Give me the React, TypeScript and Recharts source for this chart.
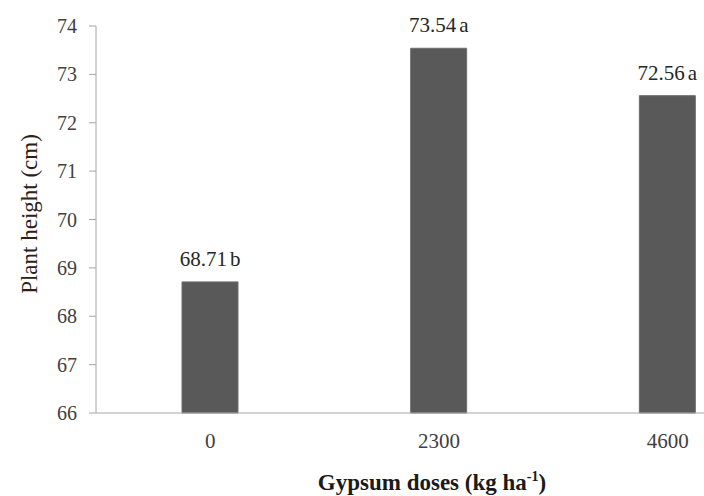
import React from "react";
import { BarChart, Bar, XAxis, YAxis, LabelList } from "recharts";

// Gypsum dose categories and mean plant heights
const doses = ["0", "2300", "4600"];
const heights = [68.71, 73.54, 72.56];
const letters = ["b", "a", "a"];
const yTicks = [66, 67, 68, 69, 70, 71, 72, 73, 74];

const data = doses.map((dose, i) => ({
  dose,
  height: heights[i],
  letter: letters[i],
}));

const FONT = "Liberation Serif, Times New Roman, serif";

const BarLabel = (props: any) => {
  const { x, y, width, index } = props;
  return (
    <text
      x={x + width / 2}
      y={y - 16}
      textAnchor="middle"
      style={{ fontFamily: FONT, fontSize: 21 }}
      fill="#262626"
    >
      {heights[index].toFixed(2)}
      <tspan dx={3}>{letters[index]}</tspan>
    </text>
  );
};

export default function App() {
  return (
    <div
      style={{
        position: "fixed",
        left: 0,
        top: 0,
        width: 704,
        height: 496,
        overflow: "hidden",
        background: "#fff",
        fontFamily: FONT,
      }}
    >
      <BarChart
        width={782}
        height={496}
        data={data}
        margin={{ top: 26, right: 0, left: 0, bottom: 53 }}
        barSize={56}
      >
        <XAxis
          dataKey="dose"
          stroke="#a6a6a6"
          tickLine={false}
          tickSize={0}
          tickMargin={20}
          height={30}
          tick={{ fill: "#404040", fontSize: 21, fontFamily: FONT }}
        />
        <YAxis
          domain={[66, 74]}
          ticks={yTicks}
          stroke="#a6a6a6"
          width={96}
          tickSize={7}
          tickMargin={12}
          tick={{ fill: "#404040", fontSize: 20, fontFamily: FONT }}
        />
        <Bar
          dataKey="height"
          fill="#595959"
          stroke="#6e6e6e"
          isAnimationActive={false}
        >
          <LabelList dataKey="height" content={<BarLabel />} />
        </Bar>
        <text
          x={29}
          y={214}
          transform="rotate(-90 29 214)"
          textAnchor="middle"
          dominantBaseline="central"
          style={{ fontFamily: FONT, fontSize: 23 }}
          fill="#2b2118"
        >
          Plant height (cm)
        </text>
        <text
          x={432}
          y={490}
          textAnchor="middle"
          style={{ fontFamily: FONT, fontSize: 23, fontWeight: "bold" }}
          fill="#1a1a1a"
        >
          Gypsum doses (kg ha
          <tspan dy={-9} fontSize={14}>
            -1
          </tspan>
          <tspan dy={9}>)</tspan>
        </text>
      </BarChart>
    </div>
  );
}
